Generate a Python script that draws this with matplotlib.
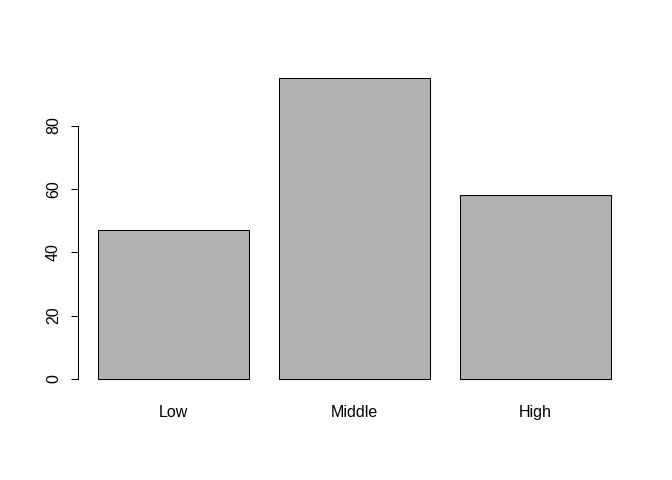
import matplotlib
matplotlib.use("Agg")
import matplotlib.pyplot as plt

categories = ["Low", "Middle", "High"]
values = [47, 95, 58]
y_ticks = [0, 20, 40, 60, 80]

plt.rcParams['font.family'] = ['Liberation Sans', 'DejaVu Sans']

fig = plt.figure(figsize=(6.72, 4.8), dpi=100)
ax = fig.add_axes([78/672, 1-391/480, (631-78)/672, (391-66)/480])

width = 1.0
space = 0.2
xs = [space + i*(width+space) + width/2 for i in range(len(values))]
ax.bar(xs, values, width=width, color="#B2B2B2", edgecolor="black", linewidth=0.75)

xmin, xmax = space, len(values)*(width+space)
ext = 0.04*(xmax-xmin)
ax.set_xlim(xmin-ext, xmax+ext)
ymax = max(values)
ax.set_ylim(-0.04*ymax, ymax*1.04)

fs = 11.5
ax.set_xticks(xs)
ax.set_xticklabels(categories, fontsize=fs)
ax.tick_params(axis='x', length=0, pad=10)

ax.set_yticks(y_ticks)
ax.set_yticklabels([str(t) for t in y_ticks], fontsize=fs, rotation=90, va='center')
ax.tick_params(axis='y', length=5.2, width=0.75, pad=7)

for s in ['top', 'right', 'bottom']:
    ax.spines[s].set_visible(False)
ax.spines['left'].set_bounds(0, 80)
ax.spines['left'].set_linewidth(0.75)

fig.savefig("out.png", dpi=100)
